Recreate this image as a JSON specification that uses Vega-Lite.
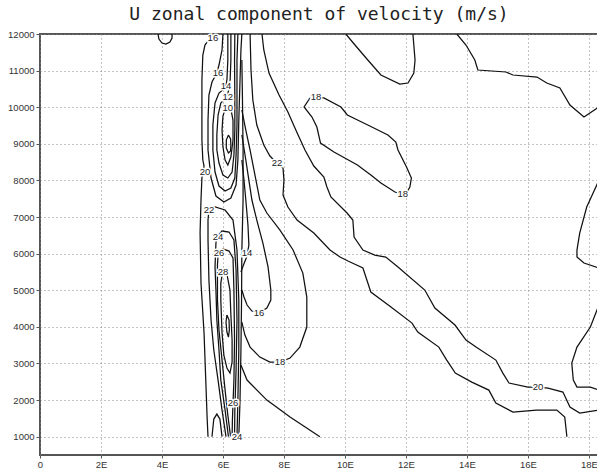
{
  "$schema": "https://vega.github.io/schema/vega-lite/v6.json",
  "width": 558,
  "height": 421,
  "autosize": {"type": "none"},
  "padding": {"left": 40, "top": 34, "right": 0, "bottom": 15},
  "background": "white",
  "title": {"text": "U zonal component of velocity (m/s)", "font": "DejaVu Sans Mono", "fontSize": 18, "fontWeight": "normal", "color": "#222", "anchor": "middle", "baseline": "alphabetic", "offset": 11, "dy": 20},
  "config": {"view": {"stroke": "#555", "strokeWidth": 2}},
  "datasets": {
    "lines": [
      {"l":"AB","x":5.51,"y":11809},{"l":"AB","x":5.41,"y":11699},{"l":"AB","x":5.34,"y":11426},{"l":"AB","x":5.31,"y":10743},{"l":"AB","x":5.31,"y":9924},{"l":"AB","x":5.31,"y":9104},{"l":"AB","x":5.34,"y":8558},{"l":"AB","x":5.38,"y":8394},{"l":"AB","x":5.34,"y":8230},{"l":"AB","x":5.31,"y":8066},{"l":"AB","x":5.28,"y":7465},{"l":"AB","x":5.25,"y":6563},{"l":"AB","x":5.28,"y":5197},{"l":"AB","x":5.38,"y":3831},{"l":"AB","x":5.44,"y":2465},{"l":"AB","x":5.48,"y":1536},{"l":"AB","x":5.51,"y":1000},
      {"l":"TU","x":3.87,"y":12000},{"l":"TU","x":3.90,"y":11863},{"l":"TU","x":4.00,"y":11754},{"l":"TU","x":4.13,"y":11727},{"l":"TU","x":4.26,"y":11781},{"l":"TU","x":4.33,"y":11891},{"l":"TU","x":4.33,"y":12000},
      {"l":"O16","x":6.00,"y":12000},{"l":"O16","x":5.97,"y":11563},{"l":"O16","x":5.87,"y":11153},{"l":"O16","x":5.80,"y":10934},{"l":"O16","x":5.64,"y":10689},{"l":"O16","x":5.54,"y":10333},{"l":"O16","x":5.51,"y":9650},{"l":"O16","x":5.51,"y":8831},{"l":"O16","x":5.61,"y":8066},{"l":"O16","x":5.77,"y":7574},{"l":"O16","x":6.03,"y":7410},{"l":"O16","x":6.26,"y":7519},{"l":"O16","x":6.43,"y":7875},{"l":"O16","x":6.49,"y":8558},{"l":"O16","x":6.52,"y":9650},{"l":"O16","x":6.56,"y":10743},{"l":"O16","x":6.59,"y":11563},{"l":"O16","x":6.62,"y":12000},
      {"l":"O14","x":6.16,"y":12000},{"l":"O14","x":6.16,"y":11290},{"l":"O14","x":6.13,"y":10743},{"l":"O14","x":6.07,"y":10525},{"l":"O14","x":5.87,"y":10388},{"l":"O14","x":5.74,"y":10115},{"l":"O14","x":5.67,"y":9514},{"l":"O14","x":5.67,"y":8831},{"l":"O14","x":5.74,"y":8230},{"l":"O14","x":5.87,"y":7847},{"l":"O14","x":6.07,"y":7711},{"l":"O14","x":6.26,"y":7793},{"l":"O14","x":6.39,"y":8066},{"l":"O14","x":6.43,"y":8694},{"l":"O14","x":6.46,"y":9514},{"l":"O14","x":6.46,"y":10470},{"l":"O14","x":6.46,"y":11290},{"l":"O14","x":6.49,"y":12000},
      {"l":"O12","x":6.26,"y":12000},{"l":"O12","x":6.26,"y":11290},{"l":"O12","x":6.23,"y":10607},{"l":"O12","x":6.13,"y":10279},{"l":"O12","x":5.93,"y":10115},{"l":"O12","x":5.84,"y":9787},{"l":"O12","x":5.80,"y":9241},{"l":"O12","x":5.80,"y":8831},{"l":"O12","x":5.87,"y":8476},{"l":"O12","x":6.00,"y":8148},{"l":"O12","x":6.16,"y":8066},{"l":"O12","x":6.30,"y":8230},{"l":"O12","x":6.36,"y":8694},{"l":"O12","x":6.39,"y":9377},{"l":"O12","x":6.39,"y":10197},{"l":"O12","x":6.38,"y":11290},{"l":"O12","x":6.39,"y":12000},
      {"l":"O10","x":6.16,"y":10000},{"l":"O10","x":6.26,"y":9950},{"l":"O10","x":6.33,"y":9650},{"l":"O10","x":6.33,"y":9104},{"l":"O10","x":6.26,"y":8640},{"l":"O10","x":6.16,"y":8421},{"l":"O10","x":6.07,"y":8558},{"l":"O10","x":6.00,"y":8913},{"l":"O10","x":5.97,"y":9377},{"l":"O10","x":6.00,"y":9760},{"l":"O10","x":6.07,"y":9950},{"l":"O10","x":6.16,"y":10000},
      {"l":"O8","x":6.18,"y":9241},{"l":"O8","x":6.25,"y":9131},{"l":"O8","x":6.26,"y":8967},{"l":"O8","x":6.25,"y":8804},{"l":"O8","x":6.18,"y":8749},{"l":"O8","x":6.11,"y":8885},{"l":"O8","x":6.11,"y":9104},{"l":"O8","x":6.18,"y":9241},
      {"l":"Z1","x":6.62,"y":11290},{"l":"Z1","x":6.64,"y":10197},{"l":"Z1","x":6.66,"y":8831},{"l":"Z1","x":6.66,"y":7465},{"l":"Z1","x":6.62,"y":6099},{"l":"Z1","x":6.61,"y":4733},{"l":"Z1","x":6.59,"y":3367},{"l":"Z1","x":6.56,"y":2000},{"l":"Z1","x":6.52,"y":1000},
      {"l":"C","x":6.10,"y":1000},{"l":"C","x":5.97,"y":1727},{"l":"C","x":5.84,"y":2547},{"l":"C","x":5.70,"y":3367},{"l":"C","x":5.61,"y":4186},{"l":"C","x":5.54,"y":5279},{"l":"C","x":5.51,"y":6372},{"l":"C","x":5.51,"y":6918},{"l":"C","x":5.54,"y":7192},{"l":"C","x":5.74,"y":7274},{"l":"C","x":6.07,"y":7192},{"l":"C","x":6.33,"y":6918},{"l":"C","x":6.46,"y":6099},{"l":"C","x":6.52,"y":4733},{"l":"C","x":6.52,"y":3367},{"l":"C","x":6.49,"y":2000},{"l":"C","x":6.46,"y":1000},
      {"l":"D","x":6.18,"y":1000},{"l":"D","x":6.07,"y":1727},{"l":"D","x":5.93,"y":2547},{"l":"D","x":5.87,"y":3367},{"l":"D","x":5.80,"y":4186},{"l":"D","x":5.77,"y":5006},{"l":"D","x":5.74,"y":5634},{"l":"D","x":5.77,"y":6290},{"l":"D","x":5.80,"y":6454},{"l":"D","x":5.97,"y":6618},{"l":"D","x":6.20,"y":6591},{"l":"D","x":6.36,"y":6372},{"l":"D","x":6.43,"y":5552},{"l":"D","x":6.46,"y":4186},{"l":"D","x":6.43,"y":2820},{"l":"D","x":6.39,"y":1727},{"l":"D","x":6.38,"y":1000},
      {"l":"E","x":6.25,"y":1000},{"l":"E","x":6.16,"y":1591},{"l":"E","x":6.07,"y":2273},{"l":"E","x":5.97,"y":3093},{"l":"E","x":5.87,"y":3913},{"l":"E","x":5.82,"y":4733},{"l":"E","x":5.82,"y":5197},{"l":"E","x":5.82,"y":5689},{"l":"E","x":5.84,"y":5962},{"l":"E","x":6.00,"y":6126},{"l":"E","x":6.20,"y":6071},{"l":"E","x":6.33,"y":5880},{"l":"E","x":6.36,"y":5006},{"l":"E","x":6.38,"y":3640},{"l":"E","x":6.36,"y":2547},{"l":"E","x":6.33,"y":1918},{"l":"E","x":6.31,"y":1454},{"l":"E","x":6.30,"y":1000},
      {"l":"F","x":6.00,"y":5552},{"l":"F","x":6.13,"y":5443},{"l":"F","x":6.23,"y":5006},{"l":"F","x":6.26,"y":4323},{"l":"F","x":6.30,"y":3640},{"l":"F","x":6.30,"y":3039},{"l":"F","x":6.23,"y":2738},{"l":"F","x":6.13,"y":2875},{"l":"F","x":6.03,"y":3230},{"l":"F","x":5.97,"y":3831},{"l":"F","x":5.93,"y":4733},{"l":"F","x":5.93,"y":5197},{"l":"F","x":6.00,"y":5552},
      {"l":"G","x":6.13,"y":4323},{"l":"G","x":6.20,"y":4186},{"l":"G","x":6.21,"y":3913},{"l":"G","x":6.18,"y":3722},{"l":"G","x":6.13,"y":3859},{"l":"G","x":6.10,"y":4132},{"l":"G","x":6.13,"y":4323},
      {"l":"HU","x":5.64,"y":1000},{"l":"HU","x":5.70,"y":1482},{"l":"HU","x":5.80,"y":1618},{"l":"HU","x":5.90,"y":1482},{"l":"HU","x":5.97,"y":1000},
      {"l":"T14","x":6.62,"y":8558},{"l":"T14","x":6.69,"y":8011},{"l":"T14","x":6.75,"y":7465},{"l":"T14","x":6.82,"y":6782},{"l":"T14","x":6.85,"y":6236},{"l":"T14","x":6.79,"y":5935},{"l":"T14","x":6.66,"y":5662},{"l":"T14","x":6.59,"y":5498},
      {"l":"T16","x":6.62,"y":9241},{"l":"T16","x":6.75,"y":8558},{"l":"T16","x":6.85,"y":8011},{"l":"T16","x":6.95,"y":7465},{"l":"T16","x":7.11,"y":6918},{"l":"T16","x":7.31,"y":6290},{"l":"T16","x":7.48,"y":5634},{"l":"T16","x":7.57,"y":5006},{"l":"T16","x":7.57,"y":4733},{"l":"T16","x":7.44,"y":4514},{"l":"T16","x":7.18,"y":4378},{"l":"T16","x":6.95,"y":4432},{"l":"T16","x":6.79,"y":4596},{"l":"T16","x":6.69,"y":4815},{"l":"T16","x":6.62,"y":5006},
      {"l":"T18","x":6.62,"y":9924},{"l":"T18","x":6.75,"y":9377},{"l":"T18","x":6.89,"y":8831},{"l":"T18","x":7.05,"y":8148},{"l":"T18","x":7.21,"y":7465},{"l":"T18","x":7.44,"y":7110},{"l":"T18","x":7.87,"y":6645},{"l":"T18","x":8.30,"y":6099},{"l":"T18","x":8.62,"y":5470},{"l":"T18","x":8.75,"y":4815},{"l":"T18","x":8.75,"y":3995},{"l":"T18","x":8.52,"y":3448},{"l":"T18","x":8.20,"y":3148},{"l":"T18","x":7.87,"y":3039},{"l":"T18","x":7.54,"y":3039},{"l":"T18","x":7.21,"y":3175},{"l":"T18","x":6.89,"y":3448},{"l":"T18","x":6.72,"y":3776},{"l":"T18","x":6.62,"y":4132},
      {"l":"M","x":6.89,"y":12000},{"l":"M","x":6.92,"y":11016},{"l":"M","x":6.98,"y":10197},{"l":"M","x":7.11,"y":9514},{"l":"M","x":7.34,"y":8967},{"l":"M","x":7.54,"y":8667},{"l":"M","x":7.77,"y":8476},{"l":"M","x":7.97,"y":8339},{"l":"M","x":8.00,"y":8011},{"l":"M","x":7.97,"y":7601},{"l":"M","x":8.13,"y":7274},{"l":"M","x":8.43,"y":6918},{"l":"M","x":8.98,"y":6563},{"l":"M","x":9.51,"y":6099},{"l":"M","x":9.84,"y":5908},{"l":"M","x":10.10,"y":5798},{"l":"M","x":10.59,"y":5607},{"l":"M","x":10.85,"y":4951},{"l":"M","x":11.51,"y":4542},{"l":"M","x":12.20,"y":4104},{"l":"M","x":12.39,"y":3859},{"l":"M","x":13.08,"y":3448},{"l":"M","x":13.34,"y":3093},{"l":"M","x":13.62,"y":2738},{"l":"M","x":14.16,"y":2492},{"l":"M","x":14.72,"y":2273},{"l":"M","x":14.95,"y":1918},{"l":"M","x":15.51,"y":1672},{"l":"M","x":16.28,"y":1727},{"l":"M","x":16.95,"y":1727},{"l":"M","x":17.21,"y":1536},{"l":"M","x":17.28,"y":1000},
      {"l":"N","x":7.28,"y":12000},{"l":"N","x":7.34,"y":11563},{"l":"N","x":7.51,"y":10934},{"l":"N","x":7.84,"y":10333},{"l":"N","x":8.13,"y":9869},{"l":"N","x":8.39,"y":9377},{"l":"N","x":8.69,"y":8831},{"l":"N","x":8.98,"y":8394},{"l":"N","x":9.31,"y":8093},{"l":"N","x":9.41,"y":7820},{"l":"N","x":9.54,"y":7547},{"l":"N","x":10.07,"y":7110},{"l":"N","x":10.26,"y":6918},{"l":"N","x":10.30,"y":6454},{"l":"N","x":10.59,"y":6099},{"l":"N","x":10.98,"y":5962},{"l":"N","x":11.34,"y":5908},{"l":"N","x":11.74,"y":5634},{"l":"N","x":12.62,"y":5006},{"l":"N","x":12.95,"y":4514},{"l":"N","x":13.61,"y":4050},{"l":"N","x":13.97,"y":3640},{"l":"N","x":14.30,"y":3448},{"l":"N","x":14.95,"y":3093},{"l":"N","x":15.18,"y":2738},{"l":"N","x":15.38,"y":2465},{"l":"N","x":16.00,"y":2356},{"l":"N","x":16.33,"y":2356},{"l":"N","x":16.66,"y":2328},{"l":"N","x":17.15,"y":2219},{"l":"N","x":17.38,"y":1809},{"l":"N","x":17.70,"y":1645},{"l":"N","x":18.33,"y":1727},
      {"l":"L18","x":8.85,"y":10252},{"l":"L18","x":9.31,"y":10252},{"l":"L18","x":9.87,"y":10006},{"l":"L18","x":10.08,"y":9787},{"l":"L18","x":10.75,"y":9514},{"l":"L18","x":11.41,"y":9241},{"l":"L18","x":11.67,"y":9049},{"l":"L18","x":11.74,"y":8831},{"l":"L18","x":12.02,"y":8366},{"l":"L18","x":12.18,"y":8066},{"l":"L18","x":12.13,"y":7820},{"l":"L18","x":12.02,"y":7656},{"l":"L18","x":11.85,"y":7629},{"l":"L18","x":11.64,"y":7684},{"l":"L18","x":11.18,"y":7929},{"l":"L18","x":10.85,"y":8148},{"l":"L18","x":10.41,"y":8421},{"l":"L18","x":9.64,"y":8776},{"l":"L18","x":9.20,"y":9022},{"l":"L18","x":9.08,"y":9459},{"l":"L18","x":8.92,"y":9732},{"l":"L18","x":8.66,"y":10006},{"l":"L18","x":8.81,"y":10197},{"l":"L18","x":8.85,"y":10252},
      {"l":"UT","x":10.03,"y":12000},{"l":"UT","x":10.33,"y":11699},{"l":"UT","x":10.75,"y":11290},{"l":"UT","x":11.18,"y":10880},{"l":"UT","x":11.80,"y":10634},{"l":"UT","x":12.07,"y":10661},{"l":"UT","x":12.26,"y":10934},{"l":"UT","x":12.30,"y":11290},{"l":"UT","x":12.23,"y":12000},
      {"l":"RT","x":13.67,"y":12000},{"l":"RT","x":13.97,"y":11699},{"l":"RT","x":14.26,"y":11290},{"l":"RT","x":14.36,"y":11016},{"l":"RT","x":15.28,"y":10962},{"l":"RT","x":15.51,"y":10880},{"l":"RT","x":16.30,"y":10825},{"l":"RT","x":16.62,"y":10661},{"l":"RT","x":17.05,"y":10525},{"l":"RT","x":17.38,"y":10060},{"l":"RT","x":17.84,"y":9732},{"l":"RT","x":18.33,"y":10006},
      {"l":"RB1","x":18.36,"y":8066},{"l":"RB1","x":18.26,"y":7875},{"l":"RB1","x":17.93,"y":7274},{"l":"RB1","x":17.70,"y":6563},{"l":"RB1","x":17.61,"y":6099},{"l":"RB1","x":17.61,"y":5908},{"l":"RB1","x":17.84,"y":5744},{"l":"RB1","x":18.33,"y":5607},
      {"l":"RB2","x":18.33,"y":4596},{"l":"RB2","x":18.05,"y":3995},{"l":"RB2","x":17.61,"y":3448},{"l":"RB2","x":17.44,"y":3012},{"l":"RB2","x":17.49,"y":2547},{"l":"RB2","x":17.61,"y":2356},{"l":"RB2","x":18.05,"y":2356},{"l":"RB2","x":18.33,"y":2273},
      {"l":"DG","x":6.59,"y":2957},{"l":"DG","x":6.79,"y":2547},{"l":"DG","x":7.44,"y":2000},{"l":"DG","x":8.20,"y":1536},{"l":"DG","x":9.18,"y":1000}
    ],
    "labels": [
      {"t":"16","x":5.67,"y":11891},{"t":"20","x":5.41,"y":8230},{"t":"22","x":5.54,"y":7192},{"t":"24","x":5.84,"y":6454},{"t":"26","x":5.87,"y":6017},{"t":"28","x":6.00,"y":5498},
      {"t":"16","x":5.84,"y":10934},{"t":"14","x":6.10,"y":10590},{"t":"12","x":6.16,"y":10279},{"t":"10","x":6.16,"y":9975},
      {"t":"22","x":7.77,"y":8476},{"t":"14","x":6.79,"y":6017},{"t":"16","x":7.18,"y":4378},{"t":"18","x":7.87,"y":3039},
      {"t":"26","x":6.33,"y":1918},{"t":"24","x":6.46,"y":1000},{"t":"18","x":9.05,"y":10279},{"t":"18","x":11.90,"y":7629},{"t":"20","x":16.33,"y":2356}
    ]
  },
  "encoding": {
    "x": {"field": "x", "type": "quantitative", "scale": {"domain": [0, 18.3], "nice": false, "zero": false},
      "axis": {"title": null, "values": [0,2,4,6,8,10,12,14,16,18], "labelExpr": "datum.value == 0 ? '0' : datum.value + 'E'", "grid": true, "gridDash": [1,3], "gridColor": "#888", "gridWidth": 1, "domain": false, "ticks": true, "tickSize": 3, "tickColor": "#555", "labelFont": "Liberation Sans", "labelFontSize": 9.5, "labelColor": "#333", "labelPadding": 1, "labelFlush": false, "labelOverlap": false}},
    "y": {"field": "y", "type": "quantitative", "scale": {"domain": [500, 12000], "nice": false, "zero": false},
      "axis": {"title": null, "values": [1000,2000,3000,4000,5000,6000,7000,8000,9000,10000,11000,12000], "format": "d", "grid": true, "gridDash": [1,3], "gridColor": "#888", "gridWidth": 1, "domain": false, "ticks": true, "tickSize": 4, "tickColor": "#555", "labelFont": "Liberation Sans", "labelFontSize": 9.5, "labelColor": "#333", "labelPadding": 2, "labelFlush": false, "labelOverlap": false}}
  },
  "layer": [
    {"data": {"name": "lines"}, "mark": {"type": "line", "color": "#111", "strokeWidth": 1.25, "clip": true}, "encoding": {"detail": {"field": "l"}, "order": {"value": null}}},
    {"data": {"name": "labels"}, "mark": {"type": "text", "font": "Liberation Sans", "fontSize": 9.5, "stroke": "white", "strokeWidth": 3, "fill": "white", "baseline": "middle", "align": "center"}, "encoding": {"text": {"field": "t"}}},
    {"data": {"name": "labels"}, "mark": {"type": "text", "font": "Liberation Sans", "fontSize": 9.5, "fill": "#222", "baseline": "middle", "align": "center"}, "encoding": {"text": {"field": "t"}}}
  ]
}
